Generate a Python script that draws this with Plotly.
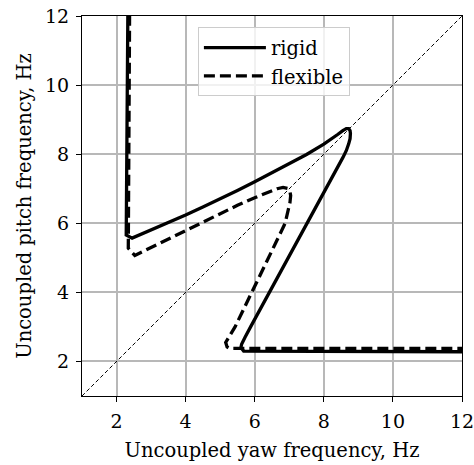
import plotly.graph_objects as go

# Rigid wing curve (uncoupled yaw freq, uncoupled pitch freq), Hz
rigid_x = [2.33, 2.31, 2.29, 2.28, 2.45, 3.0, 3.5, 4.0, 4.5, 5.0, 5.5, 6.0, 6.5, 7.0, 7.5, 8.0,
           8.2, 8.4, 8.55, 8.65, 8.72, 8.76, 8.77, 8.76, 8.72, 8.65, 8.55, 8.44, 8.33, 8.06,
           7.79, 7.52, 7.24, 6.97, 6.70, 6.43, 6.15, 5.88, 5.72, 5.62, 5.60, 5.68, 12.5]
rigid_y = [12.5, 9.0, 7.0, 5.66, 5.57, 5.80, 6.02, 6.24, 6.47, 6.70, 6.95, 7.20, 7.46, 7.72,
           7.99, 8.29, 8.42, 8.57, 8.68, 8.74, 8.74, 8.68, 8.60, 8.45, 8.30, 8.10, 7.90, 7.70,
           7.50, 7.00, 6.50, 6.00, 5.50, 5.00, 4.50, 4.00, 3.50, 3.00, 2.70, 2.50, 2.40, 2.30,
           2.28]

# Flexible wing curve
flex_x = [2.38, 2.36, 2.35, 2.34, 2.53, 3.0, 3.5, 4.0, 4.5, 5.0, 5.5, 6.0, 6.4, 6.65, 6.82,
          6.95, 7.02, 7.04, 7.02, 6.97, 6.88, 6.64, 6.40, 6.17, 5.93, 5.68, 5.43, 5.25, 5.16,
          5.20, 5.27, 12.5]
flex_y = [12.5, 9.0, 7.0, 5.28, 5.07, 5.30, 5.55, 5.80, 6.05, 6.29, 6.52, 6.74, 6.90, 7.00,
          7.04, 7.01, 6.92, 6.80, 6.60, 6.35, 6.00, 5.50, 5.00, 4.50, 4.00, 3.50, 3.00, 2.70,
          2.55, 2.42, 2.38, 2.38]

diag = [1, 12]
ticks = [2, 4, 6, 8, 10, 12]

FONT = "DejaVu Serif"
FS = 19.5

fig = go.Figure()
fig.add_trace(go.Scatter(x=diag, y=diag, mode="lines", showlegend=False,
                         line=dict(color="black", width=1, dash="4px,2.5px")))
fig.add_trace(go.Scatter(x=rigid_x, y=rigid_y, mode="lines", name="rigid", legendgroup="a",
                         line=dict(color="black", width=3.3)))
fig.add_trace(go.Scatter(x=flex_x, y=flex_y, mode="lines", name="flexible", legendgroup="b",
                         line=dict(color="black", width=3.3, dash="11px,5px")))

axis = dict(range=[1, 12], tickvals=ticks, ticks="outside", ticklen=5, tickwidth=1.2,
            tickcolor="black", showline=True, linecolor="black", linewidth=1.2, mirror=True,
            showgrid=True, gridcolor="#b8b8b8", gridwidth=1.6, zeroline=False,
            ticklabelstandoff=3, automargin=False, ticklabeloverflow="allow",
            tickfont=dict(family=FONT, size=19, color="black"))

fig.update_layout(
    width=474, height=465,
    margin=dict(l=82, r=12, t=16, b=69),
    paper_bgcolor="white", plot_bgcolor="white",
    font=dict(family=FONT, size=FS, color="black"),
    xaxis=dict(axis, title=dict(text="Uncoupled yaw frequency, Hz", standoff=12,
                                font=dict(family=FONT, size=FS))),
    yaxis=dict(axis, title=dict(text="Uncoupled pitch frequency, Hz", standoff=8,
                                font=dict(family=FONT, size=FS))),
    legend=dict(x=0.305, y=0.97, xanchor="left", yanchor="top",
                bgcolor="rgba(255,255,255,0.8)", bordercolor="#cccccc", borderwidth=1,
                font=dict(family=FONT, size=FS), itemwidth=62,
                traceorder="grouped", tracegroupgap=0),
)

fig.write_html("out.html")
